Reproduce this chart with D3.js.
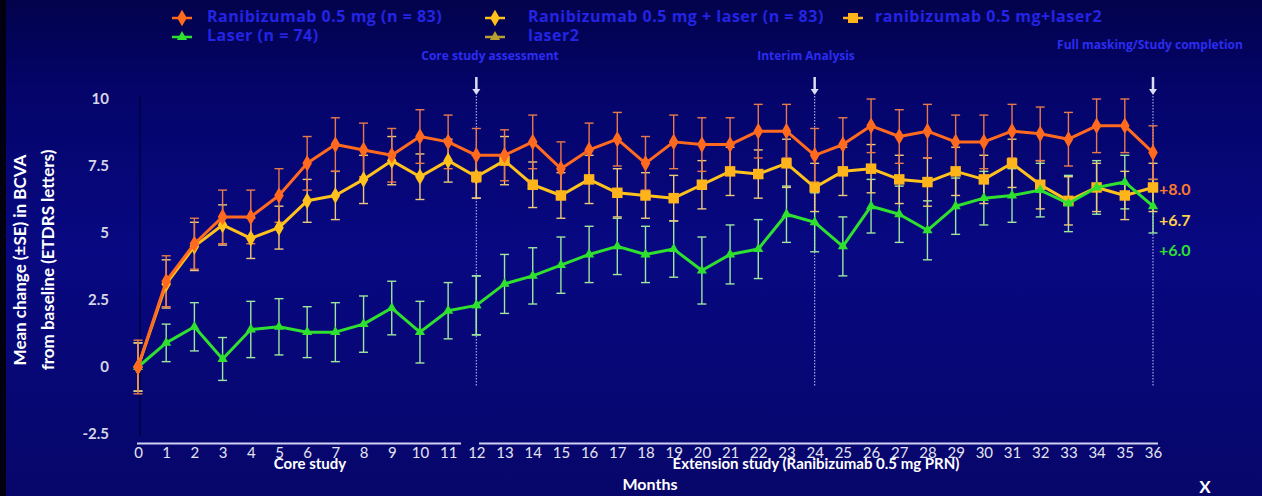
<!DOCTYPE html>
<html><head><meta charset="utf-8">
<script src="https://cdn.jsdelivr.net/npm/d3@7"></script>
<style>
html,body{margin:0;padding:0;background:#03035a;}
svg{display:block;font-family:Lato,"Open Sans",sans-serif;}
</style></head>
<body><svg id="c" width="1262" height="496"></svg>
<script>
// ---- data ----
const months = d3.range(0, 37);
const yTicks = [-2.5, 0, 2.5, 5, 7.5, 10];
const ranibizumab = [0,3.2,4.6,5.6,5.6,6.4,7.6,8.3,8.1,7.9,8.6,8.4,7.9,7.9,8.4,7.4,8.1,8.5,7.6,8.4,8.3,8.3,8.8,8.8,7.9,8.3,9.0,8.6,8.8,8.4,8.4,8.8,8.7,8.5,9.0,9.0,8.0];
const ranibizumabSE = [1.0,0.95,0.95,1.0,1.0,1.0,1.0,1.0,1.0,1.0,1.0,1.0,1.0,0.95,1.0,1.0,1.0,1.0,1.0,1.0,1.0,1.0,1.0,1.0,1.0,1.0,1.0,1.0,1.0,1.0,1.0,1.0,1.0,1.0,1.0,1.0,1.0];
const monthsCore = d3.range(0, 13);
const monthsExt = d3.range(12, 37);
const raniLaser = [0,3.1,4.5,5.3,4.8,5.2,6.2,6.4,7.0,7.7,7.1,7.7,7.1];
const raniLaserSE = [0.9,0.9,0.9,0.75,0.75,0.8,0.8,0.9,0.9,0.9,0.85,0.8,0.8];
const raniLaser2 = [7.1,7.7,6.8,6.4,7.0,6.5,6.4,6.3,6.8,7.3,7.2,7.6,6.7,7.3,7.4,7.0,6.9,7.3,7.0,7.6,6.8,6.2,6.7,6.4,6.7];
const raniLaser2SE = [0.8,0.9,0.85,0.85,0.9,0.9,0.85,0.85,0.9,0.9,0.9,0.9,0.9,0.9,0.9,0.9,0.9,0.9,0.9,0.9,0.9,0.9,0.9,0.9,0.9];
const laser = [0,0.9,1.5,0.3,1.4,1.5,1.3,1.3,1.6,2.2,1.3,2.1,2.3];
const laserSE = [0.9,0.7,0.9,0.8,1.05,1.05,0.95,1.1,1.05,1.0,1.15,1.05,1.1];
const laser2 = [2.3,3.1,3.4,3.8,4.2,4.5,4.2,4.4,3.6,4.2,4.4,5.7,5.4,4.5,6.0,5.7,5.1,6.0,6.3,6.4,6.6,6.1,6.7,6.9,6.0];
const laser2SE = [1.1,1.1,1.05,1.05,1.05,1.05,1.05,1.05,1.25,1.1,1.1,1.05,1.1,1.1,1.0,1.05,1.1,1.05,1.0,1.0,1.0,1.05,1.0,1.0,1.0];
const legendLabels = ["Ranibizumab 0.5 mg (n = 83)","Ranibizumab 0.5 mg + laser (n = 83)","ranibizumab 0.5 mg+laser2","Laser (n = 74)","laser2"];
const endLabels = ["+8.0","+6.7","+6.0"];
const milestoneMonths = [12, 24, 36];
const milestoneLabels = ["Core study assessment","Interim Analysis","Full masking/Study completion"];

// ---- setup ----
const svg = d3.select("#c");
const W = 1262, H = 496;
const defs = svg.append("defs");
const g = defs.append("linearGradient").attr("id","bg").attr("x1",0).attr("x2",0).attr("y1",0).attr("y2",1);
g.append("stop").attr("offset","0%").attr("stop-color","#02024c");
g.append("stop").attr("offset","18%").attr("stop-color","#04046a");
g.append("stop").attr("offset","50%").attr("stop-color","#080882");
g.append("stop").attr("offset","100%").attr("stop-color","#06066a");
svg.append("rect").attr("width",W).attr("height",H).attr("fill","url(#bg)");
svg.append("rect").attr("width",6).attr("height",H).attr("fill","#000010");

const x = d3.scaleLinear().domain([0,36]).range([138,1153]);
const y = d3.scaleLinear().domain([-2.5,10]).range([434,99]);

// y axis line
svg.append("line").attr("x1",140).attr("x2",140).attr("y1",95).attr("y2",436)
  .attr("stroke","#03034a").attr("stroke-width",2);

// y axis
const ya = svg.append("g").attr("transform","translate(112,0)")
  .call(d3.axisLeft(y).tickValues(yTicks).tickSize(0).tickFormat(d=>String(d)));
ya.select(".domain").remove();
ya.selectAll("text").attr("fill","#d6d6e6").attr("font-size",15).attr("font-weight","bold")
  .attr("font-family","Lato,sans-serif");

// x axis
const xa = svg.append("g").attr("transform","translate(0,447)")
  .call(d3.axisBottom(x).tickValues(months).tickSize(0).tickPadding(0).tickFormat(d=>String(d)));
xa.select(".domain").remove();
xa.selectAll("text").attr("fill","#e4e4f0").attr("font-size",15).attr("dy","0.71em")
  .attr("font-family","Lato,sans-serif");

// study period bars
svg.append("line").attr("x1",137).attr("x2",461).attr("y1",443.5).attr("y2",443.5).attr("stroke","#cfcff4").attr("stroke-width",2.2);
svg.append("line").attr("x1",479).attr("x2",1158).attr("y1",443.5).attr("y2",443.5).attr("stroke","#cfcff4").attr("stroke-width",2.2);

// milestones
milestoneMonths.forEach((m,i)=>{
  const mx = x(m);
  svg.append("line").attr("x1",mx).attr("x2",mx).attr("y1",96).attr("y2",386)
    .attr("stroke","#a8a8e8").attr("stroke-width",1.2).attr("stroke-dasharray","1.5,1.5");
  svg.append("line").attr("x1",mx).attr("x2",mx).attr("y1",77).attr("y2",90)
    .attr("stroke","#dcdcf4").attr("stroke-width",2.5);
  svg.append("path").attr("d",`M${mx-4},89 L${mx+4},89 L${mx},95 Z`).attr("fill","#dcdcf4");
});
const msPos = [[490,57],[806,57],[1150,46]];
milestoneLabels.forEach((t,i)=>{
  svg.append("text").attr("x",msPos[i][0]).attr("y",msPos[i][1]).attr("text-anchor","middle")
    .attr("dominant-baseline","middle").attr("font-size",12).attr("font-weight","bold")
    .attr("font-family","'Open Sans',sans-serif")
    .attr("fill","#2c2cf0").text(t);
});

// error bars
function errBars(xs, vals, se, color){
  const gg = svg.append("g").attr("stroke",color).attr("stroke-width",1.4).attr("fill","none");
  xs.forEach((m,i)=>{
    const cx = x(m), t = y(vals[i]+se[i]), b = y(vals[i]-se[i]);
    gg.append("line").attr("x1",cx).attr("x2",cx).attr("y1",t).attr("y2",b);
    gg.append("line").attr("x1",cx-4.5).attr("x2",cx+4.5).attr("y1",t).attr("y2",t);
    gg.append("line").attr("x1",cx-4.5).attr("x2",cx+4.5).attr("y1",b).attr("y2",b);
  });
}
errBars(monthsCore, laser, laserSE, "#9ee69e");
errBars(monthsExt, laser2, laser2SE, "#9ee69e");
errBars(monthsCore, raniLaser, raniLaserSE, "#ecc878");
errBars(monthsExt, raniLaser2, raniLaser2SE, "#ecc878");
errBars(months, ranibizumab, ranibizumabSE, "#e87a4a");

const line = d3.line().x(d=>x(d[0])).y(d=>y(d[1]));
function series(xs, vals, color, sym, size, mcolor){
  const pts = xs.map((m,i)=>[m, vals[i]]);
  svg.append("path").datum(pts).attr("d",line).attr("fill","none")
    .attr("stroke",color).attr("stroke-width",3).attr("stroke-linejoin","round");
  svg.append("g").selectAll("path").data(pts).join("path")
    .attr("transform",d=>`translate(${x(d[0])},${y(d[1])})`)
    .attr("d",d3.symbol(sym,size)).attr("fill",mcolor||color);
}
series(monthsCore, raniLaser, "#ffc21c", d3.symbolDiamond, 80);
series(monthsExt, raniLaser2, "#ffc21c", d3.symbolSquare, 110, "#ffb41c");
series(monthsCore, laser, "#2fe02f", d3.symbolTriangle, 45);
series(monthsExt, laser2, "#2fe02f", d3.symbolTriangle, 45);
series(months, ranibizumab, "#ff6a1e", d3.symbolDiamond, 80);

// end labels
const endColors = ["#ff7a2a","#ffd04a","#30e030"];
const endY = [191, 222, 252];
endLabels.forEach((t,i)=>{
  svg.append("text").attr("x",1159).attr("y",endY[i]).attr("dominant-baseline","middle")
    .attr("font-size",16).attr("font-weight","bold").attr("fill",endColors[i]).text(t);
});

// section labels
svg.append("text").attr("x",310).attr("y",465).attr("text-anchor","middle").attr("dominant-baseline","middle")
  .attr("font-size",15).attr("font-weight","bold").attr("fill","#ffffff").text("Core study");
svg.append("text").attr("x",816).attr("y",465).attr("text-anchor","middle").attr("dominant-baseline","middle")
  .attr("font-size",15).attr("font-weight","bold").attr("fill","#ffffff").text("Extension study (Ranibizumab 0.5 mg PRN)");
svg.append("text").attr("x",650).attr("y",486).attr("text-anchor","middle").attr("dominant-baseline","middle")
  .attr("font-size",16).attr("font-weight","bold").attr("fill","#ffffff").text("Months");
svg.append("text").attr("x",1205).attr("y",489).attr("text-anchor","middle").attr("dominant-baseline","middle")
  .attr("font-size",17).attr("font-weight","bold").attr("fill","#ffffff").text("X");

// y title
const yt = svg.append("text").attr("transform","translate(20,260) rotate(-90)").attr("text-anchor","middle")
  .attr("font-size",17).attr("font-weight","bold").attr("fill","#ffffff");
yt.append("tspan").attr("x",0).attr("dy","0.35em").text("Mean change (±SE) in BCVA");
yt.append("tspan").attr("x",0).attr("dy","1.65em").text("from baseline (ETDRS letters)");

// legend
const legItems = [
  {x:182,y:18,color:"#ff6a1e",sym:d3.symbolDiamond,size:80,label:legendLabels[0],tx:207},
  {x:495,y:18,color:"#ffc21c",sym:d3.symbolDiamond,size:80,label:legendLabels[1],tx:528},
  {x:853,y:18,color:"#ffb41c",sym:d3.symbolSquare,size:100,label:legendLabels[2],tx:875},
  {x:182,y:37,color:"#2fe02f",sym:d3.symbolTriangle,size:45,label:legendLabels[3],tx:207},
  {x:495,y:37,color:"#b8a030",sym:d3.symbolTriangle,size:45,label:legendLabels[4],tx:528}
];
legItems.forEach(it=>{
  svg.append("line").attr("x1",it.x-10).attr("x2",it.x+10).attr("y1",it.y).attr("y2",it.y)
    .attr("stroke",it.color).attr("stroke-width",2.5);
  svg.append("path").attr("transform",`translate(${it.x},${it.y})`).attr("d",d3.symbol(it.sym,it.size)).attr("fill",it.color);
  svg.append("text").attr("x",it.tx).attr("y",it.y).attr("dominant-baseline","middle")
    .attr("font-size",16).attr("letter-spacing",0.5).attr("font-weight","bold").attr("font-family","'Open Sans',sans-serif")
    .attr("fill","#2424e4").text(it.label);
});
</script>
</body></html>
